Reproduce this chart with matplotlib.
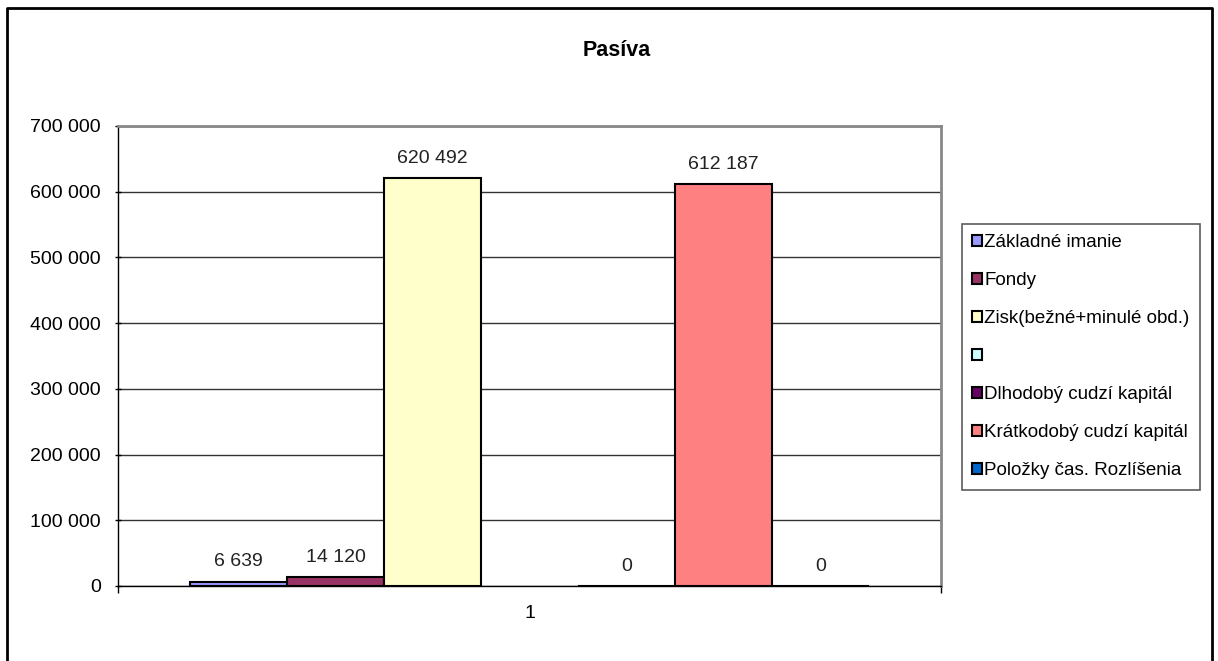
import numpy as np
import matplotlib.pyplot as plt
from matplotlib.patches import Patch
from matplotlib.lines import Line2D

plt.rcParams['font.family'] = ['Liberation Sans', 'DejaVu Sans']

# Data
series = ['Základné imanie', 'Fondy', 'Zisk(bežné+minulé obd.)', '',
          'Dlhodobý cudzí kapitál', 'Krátkodobý cudzí kapitál', 'Položky čas. Rozlíšenia']
values = [6639, 14120, 620492, np.nan, 0, 612187, 0]
colors = ['#9999FF', '#993366', '#FFFFCC', '#CCFFFF', '#660066', '#FF8080', '#0066CC']
category = ['1']
yticks = np.arange(0, 700001, 100000)

def fmt(v):
    return f'{int(v):,}'.replace(',', ' ')

fig = plt.figure(figsize=(12.18, 6.61), dpi=100)
ax = fig.add_axes([118 / 1218, 75 / 661, 823 / 1218, 460 / 661])

n = len(series)
group = 0.825
w = group / n
for i, (v, c) in enumerate(zip(values, colors)):
    x = 1 - group / 2 + w * (i + 0.5)
    if np.isnan(v):
        continue
    ax.bar(x, v, width=w, color=c, edgecolor='black', linewidth=1.5, zorder=3)
    ax.text(x, v + 17000, fmt(v), ha='center', va='bottom', fontsize=14, color='#222222')

ax.set_xlim(0.5, 1.5)
ax.set_ylim(0, 700000)
ax.set_yticks(yticks)
ax.set_yticklabels([fmt(t) for t in yticks], fontsize=14)
ax.set_xticks([1])
ax.set_xticklabels(category, fontsize=14)
ax.tick_params(axis='x', length=0, pad=14)
ax.set_xticks([0.5, 1.5], minor=True)
ax.tick_params(axis='x', which='minor', length=5, width=1, direction='out')
ax.tick_params(axis='y', length=5, width=1, direction='inout', pad=10)
ax.yaxis.grid(True, color='#333333', linewidth=1, zorder=0)
ax.set_axisbelow(True)
for s in ['top', 'right']:
    ax.spines[s].set_color('#888888')
    ax.spines[s].set_linewidth(2)
for s in ['left', 'bottom']:
    ax.spines[s].set_color('black')
    ax.spines[s].set_linewidth(1)

fig.text(617 / 1218, 1 - 50 / 661, 'Pasíva', ha='center', va='center',
         fontsize=15.5, fontweight='bold')

handles = [Patch(facecolor=c, edgecolor='black', linewidth=1.5) for c in colors]
leg = fig.legend(handles, series, loc='upper left',
                 bbox_to_anchor=(962 / 1218, 1 - 224 / 661),
                 fontsize=13.5, frameon=True, fancybox=False, edgecolor='#333333',
                 handlelength=0.5, handleheight=0.5, handletextpad=0.15,
                 labelspacing=1.12, borderpad=0.55, borderaxespad=0)
leg.get_frame().set_linewidth(1.2)

# outer chart border
bx0, bx1, by1 = 7 / 1218, 1212 / 1218, 1 - 8 / 661
fig.add_artist(Line2D([bx0, bx0, bx1, bx1], [-0.01, by1, by1, -0.01],
                      transform=fig.transFigure, color='black', linewidth=2))

fig.savefig('out.png', dpi=100, facecolor='white')
